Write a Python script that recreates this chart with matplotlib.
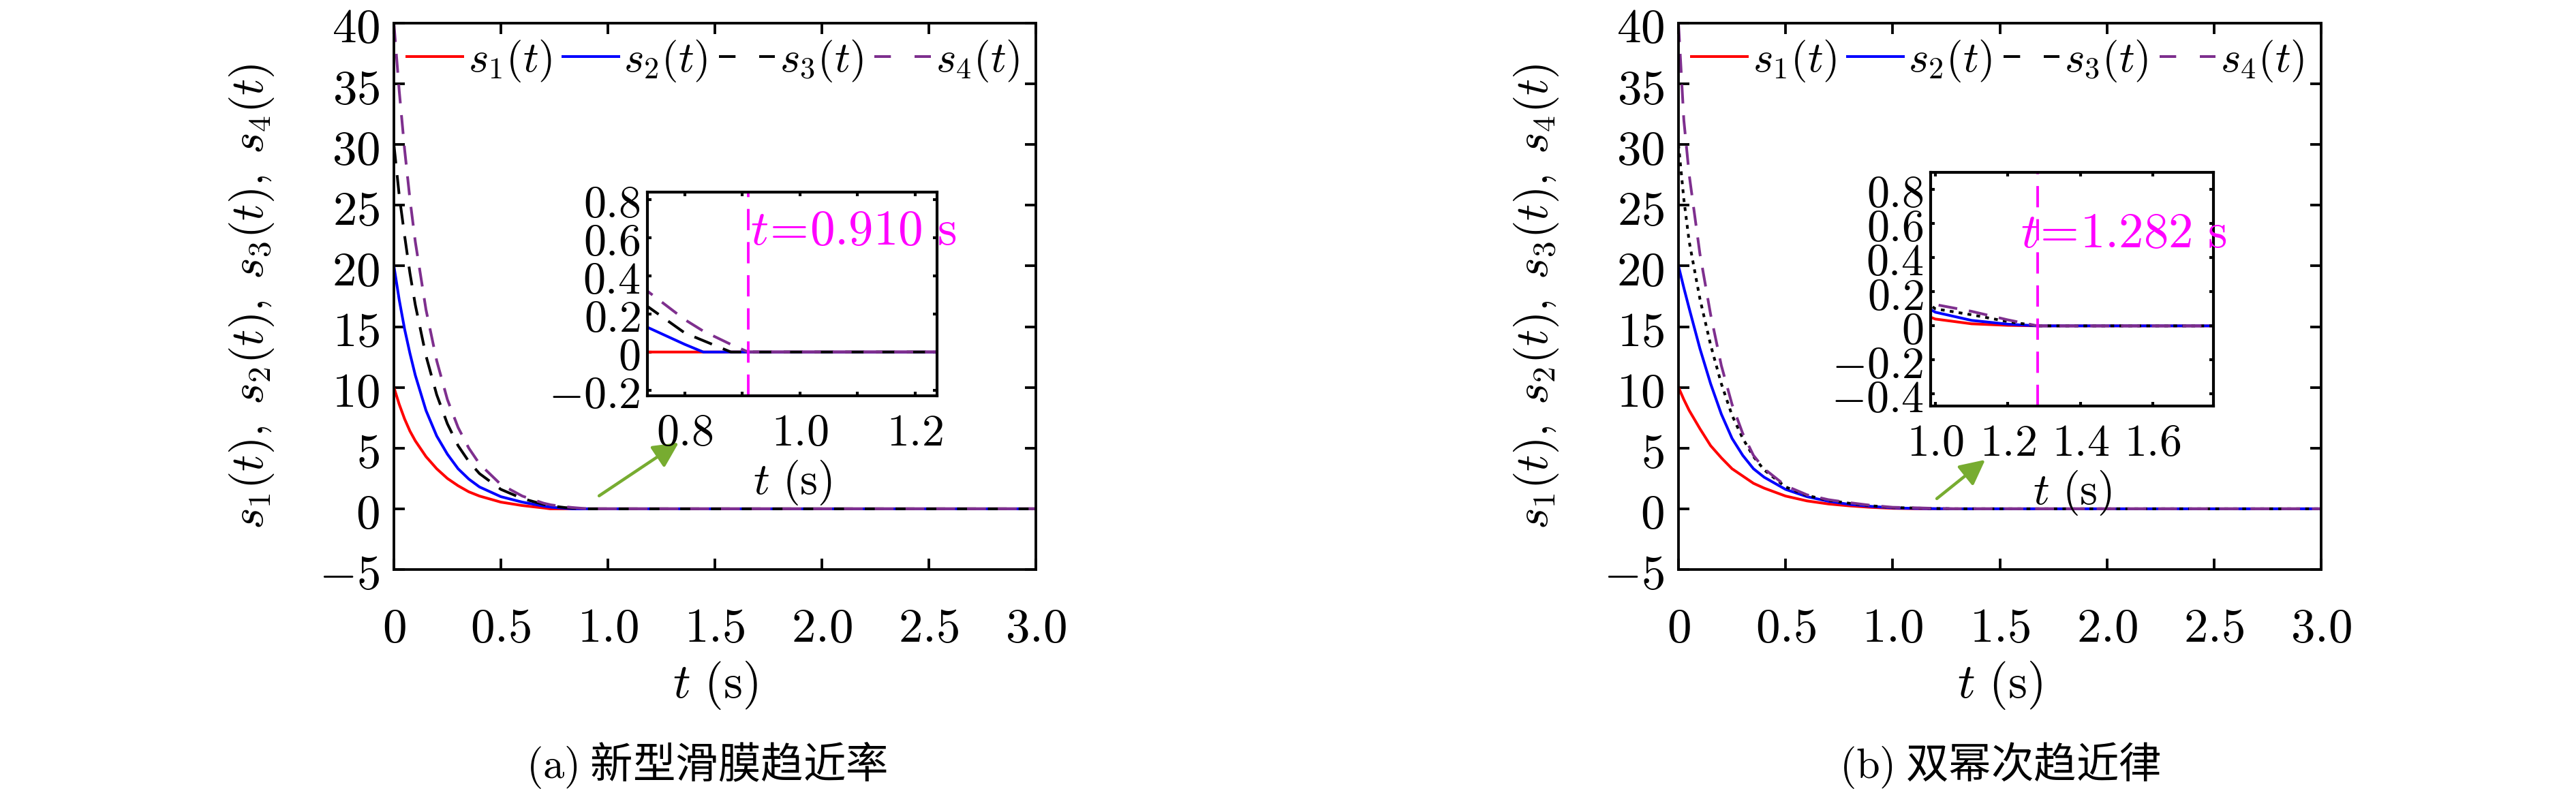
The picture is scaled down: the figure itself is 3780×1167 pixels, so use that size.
import numpy as np
import matplotlib
matplotlib.use("Agg")
import matplotlib.pyplot as plt
from matplotlib.lines import Line2D

plt.rcParams['mathtext.fontset'] = 'cm'
plt.rcParams['font.family'] = ['Noto Sans CJK SC', 'DejaVu Sans']
plt.rcParams['lines.scale_dashes'] = False
plt.rcParams['axes.unicode_minus'] = True

# ---- data ----
# (a) new sliding-mode reaching law: finite-time convergence
t_a = [0, 0.025, 0.05, 0.075, 0.1, 0.15, 0.2, 0.25, 0.3, 0.35, 0.4, 0.5, 0.6, 0.7,
       0.73, 0.735, 0.8, 0.832, 0.88, 0.91, 1.0, 1.5, 2.0, 2.5, 3.0]
s1_a = [10, 8.6, 7.4, 6.4, 5.6, 4.3, 3.3, 2.5, 1.9, 1.4, 1.05, 0.55, 0.27, 0.07,
        0, 0, 0, 0, 0, 0, 0, 0, 0, 0, 0]
s2_a = [20, 17.2, 14.8, 12.8, 11, 8.1, 6.0, 4.5, 3.3, 2.45, 1.8, 1.0, 0.55, 0.22,
        0.15, 0.13, 0.04, 0, 0, 0, 0, 0, 0, 0, 0]
s3_a = [30, 25.8, 22.5, 19.4, 16.8, 12.6, 9.4, 7.0, 5.2, 3.9, 2.9, 1.6, 0.85, 0.36,
        0.26, 0.24, 0.1, 0.06, 0, 0, 0, 0, 0, 0, 0]
s4_a = [40, 34.4, 29.6, 25.5, 22, 16.4, 12.2, 9.0, 6.7, 5.0, 3.7, 2.0, 1.05, 0.46,
        0.34, 0.32, 0.17, 0.11, 0.04, 0, 0, 0, 0, 0, 0]

# (b) double power reaching law: asymptotic convergence
t_b = [0, 0.025, 0.05, 0.1, 0.15, 0.2, 0.25, 0.3, 0.35, 0.4, 0.5, 0.6, 0.7, 0.8,
       0.9, 1.0, 1.1, 1.2, 1.282, 1.4, 2.0, 3.0]
s1_b = [10, 9.0, 8.1, 6.6, 5.2, 4.2, 3.3, 2.7, 2.1, 1.7, 1.05, 0.65, 0.4, 0.24,
        0.12, 0.04, 0.012, 0.003, 0, 0, 0, 0]
s2_b = [20, 18.2, 16.5, 13.2, 10.3, 7.8, 5.8, 4.4, 3.3, 2.6, 1.6, 1.0, 0.62, 0.36,
        0.2, 0.08, 0.032, 0.01, 0, 0, 0, 0]
s3_b = [30, 25.5, 22, 17.3, 13.5, 10.3, 7.7, 5.8, 4.3, 3.2, 1.8, 1.1, 0.7, 0.45,
        0.25, 0.1, 0.065, 0.025, 0, 0, 0, 0]
s4_b = [40, 32, 27.5, 21, 16, 11.8, 8.6, 6.2, 4.4, 3.3, 1.9, 1.15, 0.75, 0.5,
        0.28, 0.125, 0.085, 0.035, 0, 0, 0, 0]

t_conv = [0.910, 1.282]
caption_tags = ["(a)", "(b)"]
caption_names = ["新型滑膜趋近率", "双幂次趋近律"]
series_names = [r'$s_1(t)$', r'$s_2(t)$', r'$s_3(t)$', r'$s_4(t)$']

main_xticks = [0, 0.5, 1.0, 1.5, 2.0, 2.5, 3.0]
main_xticklabels = ['0', '0.5', '1.0', '1.5', '2.0', '2.5', '3.0']
main_yticks = [-5, 0, 5, 10, 15, 20, 25, 30, 35, 40]

ins_a_xticks = [0.8, 0.9, 1.0, 1.1, 1.2]
ins_a_xticklabels = ['0.8', '', '1.0', '', '1.2']
ins_a_yticks = [-0.2, 0, 0.2, 0.4, 0.6, 0.8]
ins_b_xticks = [1.0, 1.2, 1.4, 1.6]
ins_b_xticklabels = ['1.0', '1.2', '1.4', '1.6']
ins_b_yticks = [-0.4, -0.2, 0, 0.2, 0.4, 0.6, 0.8]

RED = '#FF0000'
BLUE = '#0000FF'
BLACK = '#000000'
PURPLE = '#7E2F8E'
MAGENTA = '#FF00FF'
GREEN = '#77AC30'


def fmt_y(vals):
    out = []
    for v in vals:
        if abs(v) < 1e-9:
            out.append('$0$')
        elif float(v).is_integer():
            out.append('$%d$' % v)
        else:
            out.append('$%g$' % v)
    return out


fig = plt.figure(figsize=(15.12, 4.668), dpi=250)
W, H = 3780.0, 1167.0


def px_axes(x0, y0, x1, y1):
    return fig.add_axes([x0 / W, 1 - y1 / H, (x1 - x0) / W, (y1 - y0) / H])


def style_axes(ax, lw, tl, fs):
    for sp in ax.spines.values():
        sp.set_linewidth(lw)
    ax.tick_params(direction='in', top=True, right=True, length=tl, width=lw,
                   labelsize=fs, pad=6)


main_boxes = [(578, 34, 1520, 836), (2463, 34, 3406, 836)]
inset_boxes = [(950, 282, 1375, 581), (2833, 253, 3248, 596)]
data = [(t_a, [s1_a, s2_a, s3_a, s4_a]), (t_b, [s1_b, s2_b, s3_b, s4_b])]
arrows = [((0.959, 1.07), (1.331, 5.45)), ((1.206, 0.84), (1.432, 4.04))]
lw_c = 1.15
dash = (8, 5)
dot = (1.6, 2.2)

for k in range(2):
    t, ss = data[k]
    ax = px_axes(*main_boxes[k])
    styles = [dict(color=RED, ls='-'), dict(color=BLUE, ls='-'),
              dict(color=BLACK, ls=(0, dash) if k == 0 else (0, dot)),
              dict(color=PURPLE, ls=(0, dash))]
    for s, st in zip(ss, styles):
        ax.plot(t, s, lw=lw_c, **st)
    ax.set_xlim(0, 3.0)
    ax.set_ylim(-5, 40)
    ax.set_xticks(main_xticks)
    ax.set_xticklabels(['$%s$' % l for l in main_xticklabels])
    ax.set_yticks(main_yticks)
    ax.set_yticklabels(fmt_y(main_yticks))
    style_axes(ax, 1.1, 4.5, 20.5)
    ax.tick_params(axis='x', pad=14)
    ax.set_xlabel(r'$t\ (\mathrm{s})$', fontsize=20.5, labelpad=3)
    ax.set_ylabel(r'$s_1(t),\;s_2(t),\;s_3(t),\;s_4(t)$', fontsize=19.5,
                  labelpad=18)

    handles = [Line2D([], [], color=RED, lw=lw_c),
               Line2D([], [], color=BLUE, lw=lw_c),
               Line2D([], [], color=BLACK, lw=lw_c, ls=(0, (7, 10))),
               Line2D([], [], color=PURPLE, lw=lw_c, ls=(0, (7, 10)))]
    ax.legend(handles, series_names, ncol=4, frameon=False, fontsize=18.2,
              loc='center left', bbox_to_anchor=(0.02, 0.931), borderaxespad=0,
              borderpad=0, handlelength=1.3, handletextpad=0.12,
              columnspacing=0.25)

    (x0, y0), (x1, y1) = arrows[k]
    ax.annotate('', xy=(x1, y1), xytext=(x0, y0),
                arrowprops=dict(arrowstyle='-|>,head_length=0.9,head_width=0.45',
                                color=GREEN, lw=1.3, shrinkA=0, shrinkB=0))

    cx = (main_boxes[k][0] + main_boxes[k][2]) / 2 - (12 if k == 0 else 0)
    fig.text(cx / W, 1 - 1123 / H,
             r'$\mathrm{%s}$ %s' % (caption_tags[k], caption_names[k]),
             ha='center', va='center', fontsize=18)

    # inset
    ia = px_axes(*inset_boxes[k])
    for s, st in zip(ss, styles):
        ia.plot(t, s, lw=lw_c, **st)
    ia.axvline(t_conv[k], color=MAGENTA, lw=1.1, ls=(0, (9, 5)))
    if k == 0:
        ia.set_xlim(0.735, 1.238)
        ia.set_ylim(-0.23, 0.84)
        ia.set_xticks(ins_a_xticks)
        ia.set_xticklabels(['$%s$' % l if l else '' for l in ins_a_xticklabels])
        ia.set_yticks(ins_a_yticks)
        ia.set_yticklabels(fmt_y(ins_a_yticks))
        ia.text(0.914, 0.64, r'$t\!=\!0.910\ \mathrm{s}$', color=MAGENTA,
                fontsize=21, va='center', ha='left')
    else:
        ia.set_xlim(0.987, 1.767)
        ia.set_ylim(-0.47, 0.9)
        ia.set_xticks(ins_b_xticks)
        ia.set_xticklabels(['$%s$' % l for l in ins_b_xticklabels])
        ia.set_yticks(ins_b_yticks)
        ia.set_yticklabels(fmt_y(ins_b_yticks))
        ia.text(1.236, 0.544, r'$t\!=\!1.282\ \mathrm{s}$', color=MAGENTA,
                fontsize=21, va='center', ha='left')
    style_axes(ia, 1.2, 1.6, 19)
    ia.tick_params(axis='y', pad=3)
    ia.tick_params(axis='x', pad=6)
    ia.set_xlabel(r'$t\ (\mathrm{s})$', fontsize=19, labelpad=1)

fig.savefig('out.png', dpi=250)
